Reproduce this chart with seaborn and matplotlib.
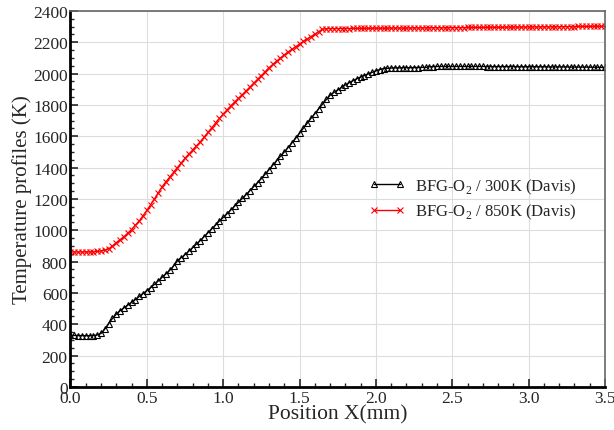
import numpy as np
import pandas as pd
import seaborn as sns
import matplotlib.pyplot as plt
from matplotlib.ticker import MultipleLocator

# position along the domain (mm), one sample every 0.025 mm
position = [round(0.025 * i, 3) for i in range(141)]

# BFG-O2 / 300K (Davis)
temp_300 = [330, 329, 328, 328, 327, 327, 328, 332, 342, 370,
            405, 438, 465, 487, 505, 522, 540, 558, 578, 596,
            615, 635, 655, 677, 700, 722, 745, 772, 805, 825,
            845, 867, 890, 912, 935, 960, 985, 1010, 1035, 1059,
            1082, 1106, 1130, 1155, 1180, 1204, 1228, 1254, 1280, 1305,
            1330, 1359, 1388, 1417, 1445, 1472, 1500, 1528, 1557, 1588,
            1620, 1652, 1685, 1715, 1745, 1775, 1805, 1835, 1862, 1880,
            1895, 1912, 1928, 1942, 1955, 1967, 1978, 1988, 1998, 2008,
            2018, 2026, 2032, 2034, 2036, 2037, 2037, 2038, 2038, 2038,
            2039, 2039, 2040, 2040, 2044, 2045, 2046, 2046, 2046, 2046,
            2046, 2046, 2046, 2046, 2046, 2046, 2046, 2046, 2046, 2045,
            2045, 2045, 2045, 2045, 2045, 2045, 2045, 2044, 2044, 2044,
            2044, 2044, 2044, 2044, 2044, 2043, 2043, 2043, 2043, 2043,
            2043, 2042, 2042, 2042, 2042, 2042, 2041, 2041, 2041, 2040,
            2040]

# BFG-O2 / 850K (Davis)
temp_850 = [862, 862, 862, 862, 862, 862, 863, 865, 869, 874,
            882, 900, 922, 940, 960, 982, 1005, 1032, 1060, 1093,
            1127, 1163, 1200, 1240, 1278, 1310, 1340, 1370, 1400, 1430,
            1460, 1486, 1512, 1538, 1565, 1595, 1625, 1655, 1685, 1714,
            1742, 1769, 1795, 1819, 1842, 1866, 1890, 1915, 1940, 1964,
            1988, 2013, 2038, 2059, 2080, 2100, 2120, 2138, 2155, 2172,
            2189, 2206, 2222, 2237, 2252, 2268, 2283, 2287, 2288, 2288,
            2288, 2288, 2288, 2288, 2289, 2289, 2289, 2289, 2289, 2290,
            2290, 2290, 2290, 2290, 2291, 2291, 2291, 2291, 2291, 2292,
            2292, 2292, 2292, 2292, 2293, 2293, 2293, 2293, 2293, 2294,
            2294, 2294, 2294, 2294, 2295, 2295, 2295, 2295, 2295, 2296,
            2296, 2296, 2296, 2296, 2297, 2297, 2297, 2297, 2297, 2298,
            2298, 2298, 2298, 2298, 2299, 2299, 2299, 2299, 2299, 2300,
            2300, 2300, 2300, 2301, 2301, 2301, 2301, 2302, 2302, 2302,
            2303]

labels = [r'BFG-O$_\mathregular{2}$ / 300K (Davis)',
          r'BFG-O$_\mathregular{2}$ / 850K (Davis)']

sns.set_style("ticks")
plt.rcParams['font.family'] = ['Liberation Serif', 'DejaVu Serif']
plt.rcParams['mathtext.fontset'] = 'custom'
plt.rcParams['mathtext.rm'] = 'Liberation Serif'

fig = plt.figure(figsize=(6.14, 4.31), dpi=100)
ax = fig.add_axes([0.1148, 0.0998, 0.8705, 0.8724])

df = pd.DataFrame({'x': position, 't300': temp_300, 't850': temp_850})

sns.lineplot(data=df, x='x', y='t300', ax=ax, color='black', lw=1.0,
             marker='^', markersize=4.5, markerfacecolor='none',
             markeredgecolor='black', markeredgewidth=0.8, label=labels[0])
sns.lineplot(data=df, x='x', y='t850', ax=ax, color='red', lw=1.0,
             marker='x', markersize=4.5, markeredgecolor='red',
             markeredgewidth=0.8, label=labels[1])

ax.set_xlim(0, 3.5)
ax.set_ylim(0, 2400)
ax.xaxis.set_major_locator(MultipleLocator(0.5))
ax.xaxis.set_minor_locator(MultipleLocator(0.1))
ax.yaxis.set_major_locator(MultipleLocator(200))
ax.yaxis.set_minor_locator(MultipleLocator(50))
ax.xaxis.set_major_formatter(plt.FormatStrFormatter('%.1f'))

ax.tick_params(which='major', direction='in', length=6, width=1.2, labelsize=12.5, pad=2)
ax.tick_params(which='minor', direction='in', length=3, width=1)
ax.grid(True, which='major', color='#dddddd', lw=0.8)

for side in ['left', 'bottom']:
    ax.spines[side].set_linewidth(2)
    ax.spines[side].set_color('black')
for side in ['top', 'right']:
    ax.spines[side].set_linewidth(1.2)
    ax.spines[side].set_color('#666666')

ax.set_xlabel('Position X(mm)', fontsize=15.5, labelpad=-1)
ax.set_ylabel('Temperature profiles (K)', fontsize=15, labelpad=1)

ax.legend(loc='upper left', bbox_to_anchor=(0.53, 0.60), frameon=False,
          fontsize=12, handlelength=2.2, markerscale=1.1, numpoints=2,
          handletextpad=0.6, labelspacing=0.4)

fig.savefig('out.png', dpi=100)
